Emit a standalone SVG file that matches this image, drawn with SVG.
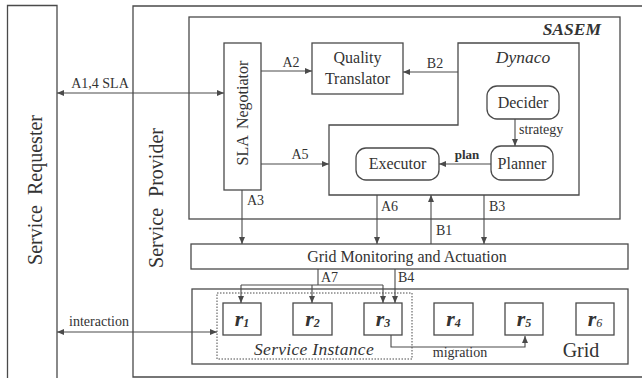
<svg xmlns="http://www.w3.org/2000/svg" width="642" height="378" viewBox="0 0 642 378">
<defs>
<style>
.b{fill:none;stroke:#4a4a4a;stroke-width:1.3}
.l{fill:none;stroke:#4a4a4a;stroke-width:1.1}
.t16{font-size:16px}
.t14{font-size:14px}
.r{font-size:22px;font-weight:bold;font-style:italic}
.s{font-size:12px;font-style:italic;font-weight:bold}
</style>
<marker id="ah" markerWidth="8" markerHeight="6" refX="7" refY="3" orient="auto" markerUnits="userSpaceOnUse">
<path d="M0,0 L7,3 L0,6 z" fill="#4a4a4a"/>
</marker>
<marker id="as" markerWidth="8" markerHeight="6" refX="0" refY="3" orient="auto" markerUnits="userSpaceOnUse">
<path d="M7,0 L0,3 L7,6 z" fill="#4a4a4a"/>
</marker>
</defs>
<rect width="642" height="378" fill="#fff"/>
<g font-family="'Liberation Serif', 'DejaVu Serif', serif" fill="#333">

<g id="service-requester">
<path class="b" d="M7.5,380 V5.5 H57 V380"/>
<text style="font-size:20px;word-spacing:5px" text-anchor="middle" transform="translate(42,190) rotate(-90)">Service Requester</text>
</g>

<g id="service-provider">
<path class="b" d="M645,6 H133 V377 H645"/>
<text style="font-size:20px;word-spacing:6px" text-anchor="middle" transform="translate(163,198) rotate(-90)">Service Provider</text>
</g>

<g id="sasem">
<rect class="b" x="189" y="17" width="431" height="202"/>
<text x="601" y="35" text-anchor="end" style="font-size:17.5px;font-weight:bold;font-style:italic">SASEM</text>
</g>

<g id="sla-negotiator">
<rect class="b" x="224" y="43" width="37" height="147"/>
<text class="t16" text-anchor="middle" style="word-spacing:3px" transform="translate(248,113) rotate(-90)">SLA Negotiator</text>
</g>

<g id="quality-translator">
<rect class="b" x="312" y="43" width="91" height="51"/>
<text class="t16" x="357.5" y="63" text-anchor="middle">Quality</text>
<text class="t16" x="357.5" y="84" text-anchor="middle">Translator</text>
</g>

<g id="dynaco">
<path class="b" d="M458,43 H579 V195 H329 V125 H458 Z"/>
<text x="523" y="63" text-anchor="middle" style="font-size:17.5px;font-style:italic">Dynaco</text>
</g>

<g id="decider">
<rect class="b" x="487" y="86" width="72" height="33" rx="10"/>
<text class="t16" x="523" y="108" text-anchor="middle">Decider</text>
</g>

<g id="planner">
<rect class="b" x="491" y="146" width="62" height="34" rx="10"/>
<text class="t16" x="522" y="169" text-anchor="middle">Planner</text>
</g>

<g id="executor">
<rect class="b" x="356" y="148" width="83" height="32" rx="10"/>
<text class="t16" x="397.5" y="169" text-anchor="middle">Executor</text>
</g>

<g id="grid-monitoring">
<rect class="b" x="191" y="244" width="437" height="25"/>
<text class="t16" x="407" y="262" text-anchor="middle">Grid Monitoring and Actuation</text>
</g>

<g id="grid">
<rect class="b" x="192" y="289" width="436" height="75"/>
<text x="581" y="357" text-anchor="middle" style="font-size:20px">Grid</text>
</g>

<g id="service-instance">
<rect x="217" y="293" width="195" height="66" fill="none" stroke="#4a4a4a" stroke-width="1" stroke-dasharray="1.5,1.5"/>
<text x="314" y="355" text-anchor="middle" style="font-size:17.5px;font-style:italic;letter-spacing:0.3px">Service Instance</text>
</g>

<g id="r1"><rect class="b" x="223" y="303" width="38" height="32"/><text x="242" y="326" text-anchor="middle"><tspan class="r">r</tspan><tspan class="s" dy="1">1</tspan></text></g>
<g id="r2"><rect class="b" x="293" y="303" width="39" height="32"/><text x="312.5" y="326" text-anchor="middle"><tspan class="r">r</tspan><tspan class="s" dy="1">2</tspan></text></g>
<g id="r3"><rect class="b" x="364" y="303" width="38" height="32"/><text x="383" y="326" text-anchor="middle"><tspan class="r">r</tspan><tspan class="s" dy="1">3</tspan></text></g>
<g id="r4"><rect class="b" x="434" y="303" width="39" height="32"/><text x="453.5" y="326" text-anchor="middle"><tspan class="r">r</tspan><tspan class="s" dy="1">4</tspan></text></g>
<g id="r5"><rect class="b" x="505" y="303" width="38" height="32"/><text x="524" y="326" text-anchor="middle"><tspan class="r">r</tspan><tspan class="s" dy="1">5</tspan></text></g>
<g id="r6"><rect class="b" x="576" y="303" width="38" height="32"/><text x="595" y="326" text-anchor="middle"><tspan class="r">r</tspan><tspan class="s" dy="1" style="font-weight:normal">6</tspan></text></g>

<g id="connectors">
<line class="l" x1="57" y1="93" x2="224" y2="93" marker-start="url(#as)" marker-end="url(#ah)"/>
<text class="t14" x="100" y="88" text-anchor="middle">A1,4 SLA</text>
<line class="l" x1="261" y1="71" x2="312" y2="71" marker-end="url(#ah)"/>
<text class="t14" x="291" y="67" text-anchor="middle">A2</text>
<line class="l" x1="458" y1="72" x2="403" y2="72" marker-end="url(#ah)"/>
<text class="t14" x="435" y="68" text-anchor="middle">B2</text>
<line class="l" x1="261" y1="164" x2="329" y2="164" marker-end="url(#ah)"/>
<text class="t14" x="300" y="159" text-anchor="middle">A5</text>
<line class="l" x1="515" y1="119" x2="515" y2="146" marker-end="url(#ah)"/>
<text class="t14" x="519" y="134">strategy</text>
<line class="l" x1="491" y1="164" x2="439" y2="164" marker-end="url(#ah)"/>
<text x="467" y="159" text-anchor="middle" style="font-size:13px;font-weight:bold">plan</text>
<line class="l" x1="242" y1="190" x2="242" y2="244" marker-end="url(#ah)"/>
<text class="t14" x="247" y="205">A3</text>
<line class="l" x1="377" y1="195" x2="377" y2="244" marker-end="url(#ah)"/>
<text class="t14" x="381" y="211">A6</text>
<line class="l" x1="431" y1="244" x2="431" y2="195" marker-end="url(#ah)"/>
<text class="t14" x="436" y="235">B1</text>
<line class="l" x1="484" y1="195" x2="484" y2="244" marker-end="url(#ah)"/>
<text class="t14" x="489" y="211">B3</text>
<path class="l" d="M318,269 V285"/>
<path class="l" d="M241,285 H383"/>
<line class="l" x1="241" y1="285" x2="241" y2="303" marker-end="url(#ah)"/>
<line class="l" x1="312" y1="285" x2="312" y2="303" marker-end="url(#ah)"/>
<line class="l" x1="383" y1="285" x2="383" y2="303" marker-end="url(#ah)"/>
<text class="t14" x="321" y="282">A7</text>
<line class="l" x1="395" y1="269" x2="395" y2="303" marker-end="url(#ah)"/>
<text class="t14" x="398" y="282">B4</text>
<path class="l" d="M391,335 V347 H525 V336" marker-end="url(#ah)"/>
<text class="t14" x="460" y="357" text-anchor="middle">migration</text>
<line class="l" x1="57" y1="332" x2="217" y2="332" marker-start="url(#as)" marker-end="url(#ah)"/>
<text class="t14" x="99" y="326" text-anchor="middle">interaction</text>
</g>
</g>
</svg>
